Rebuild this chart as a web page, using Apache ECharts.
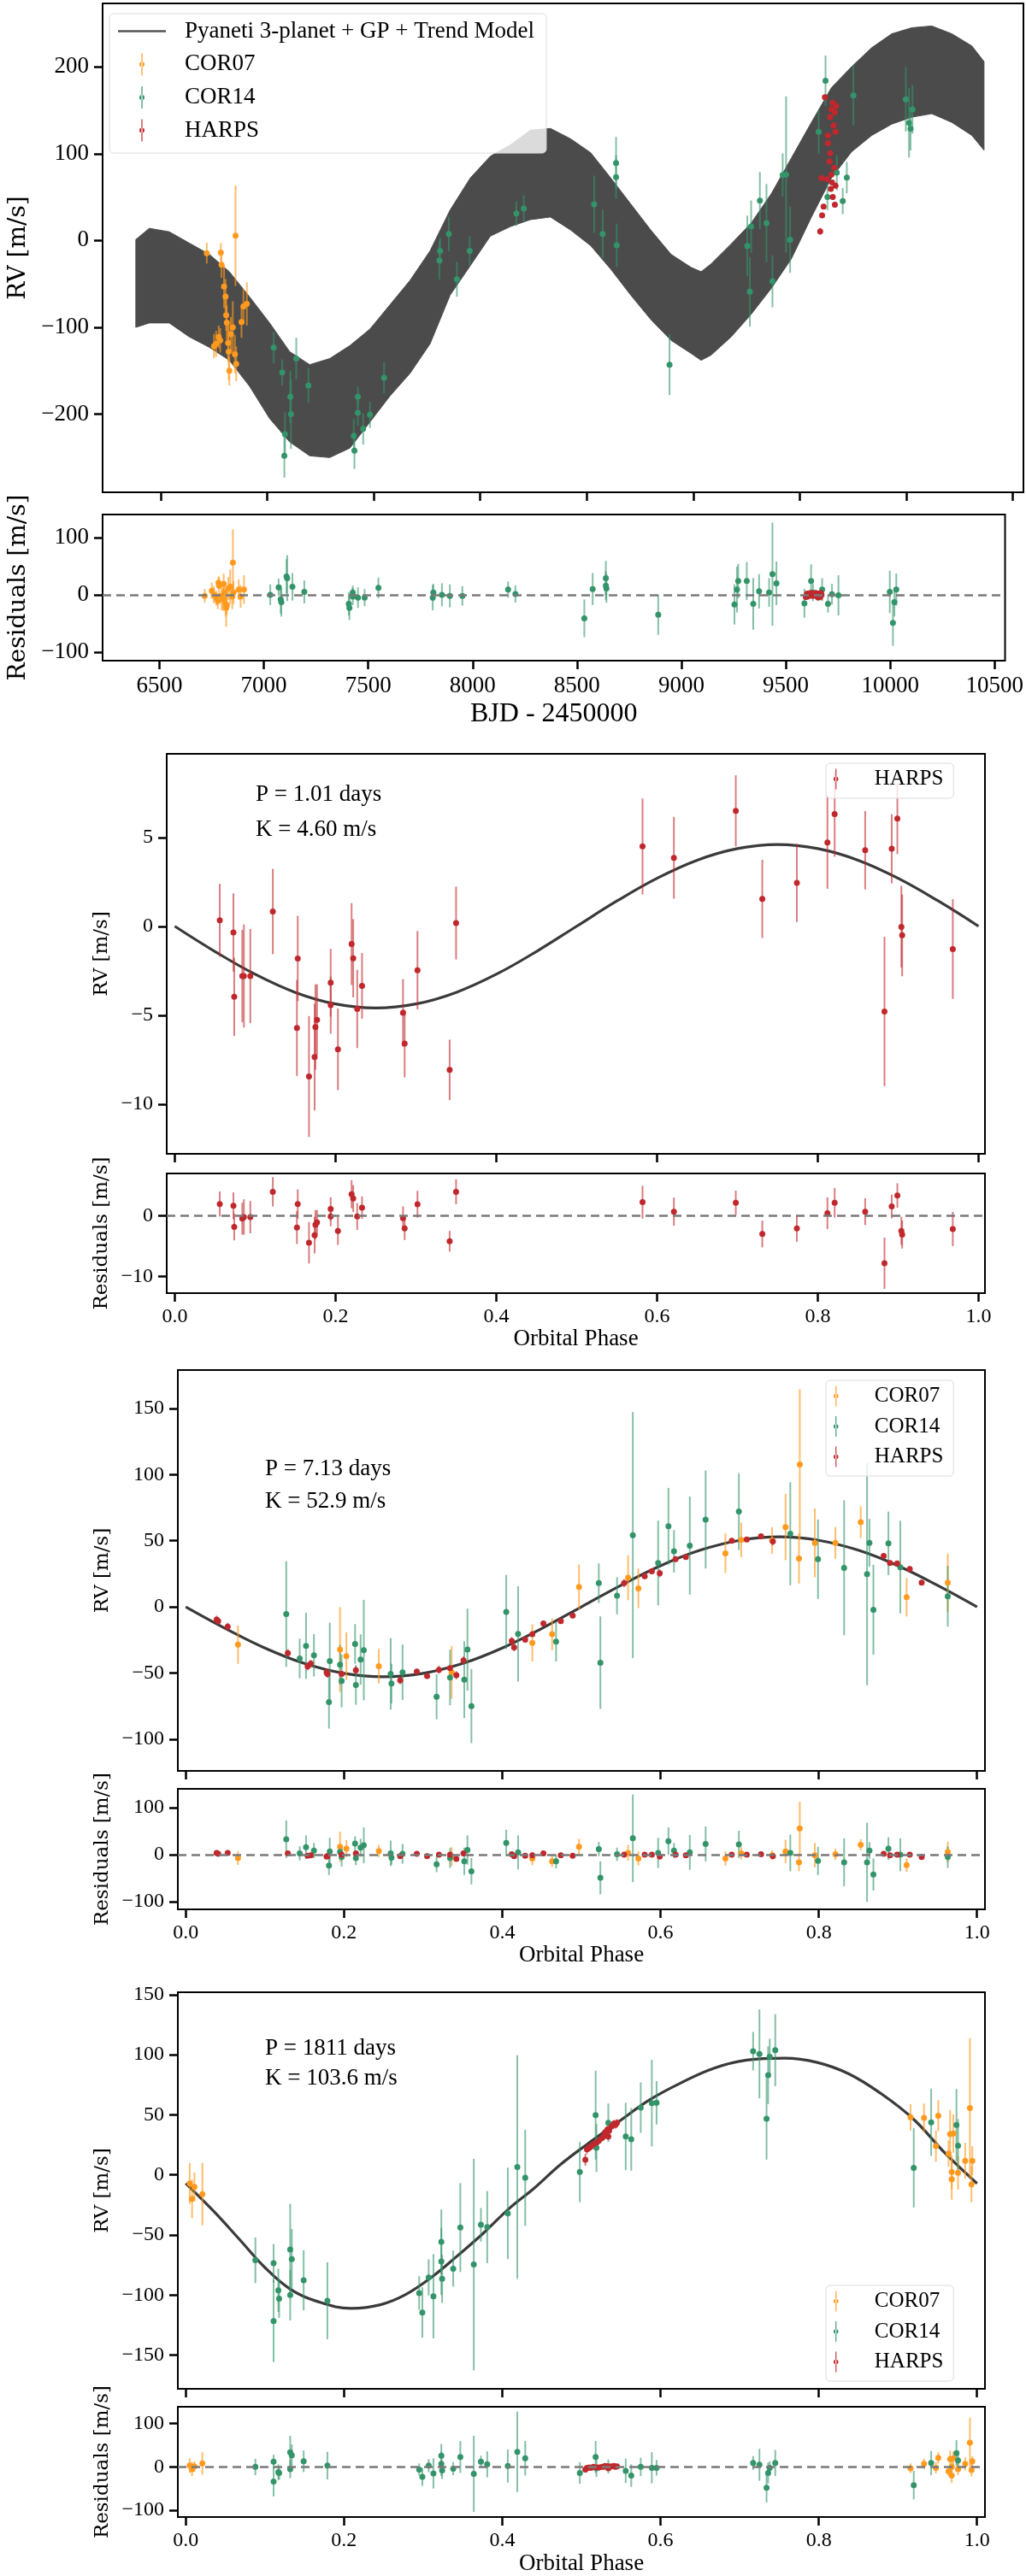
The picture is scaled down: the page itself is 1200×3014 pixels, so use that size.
<!DOCTYPE html>
<html lang="en">
<head>
<meta charset="UTF-8">
<title>RV fit</title>
<script src="https://cdn.jsdelivr.net/npm/echarts@6/dist/echarts.min.js"></script>
<style>
    html, body { margin: 0; padding: 0; background: #fff; }
    #main { width: 1200px; height: 3014px; }
</style>
</head>
<body>
<div id="main"></div>
<script>
// ---- time series: model band (upper / lower envelope)
var bandT  = [6384, 6447, 6541, 6635, 6729, 6823, 6918, 7012, 7106, 7200, 7294, 7389, 7483, 7577, 7671, 7765, 7859, 7954, 8048, 8142, 8236, 8330, 8425, 8519, 8613, 8707, 8801, 8896, 8990, 9037, 9084, 9178, 9272, 9367, 9461, 9555, 9649, 9743, 9838, 9932, 10026, 10120, 10214, 10308, 10365];
var bandHi = [1, 14, 10, -3, -16, -36, -65, -95, -128, -143, -136, -121, -102, -74, -46, -12, 35, 72, 97, 110, 127, 129, 117, 101, 72, 42, 12, -16, -31, -36, -27, -4, 20, 54, 95, 136, 176, 200, 222, 238, 245, 247, 238, 224, 206];
var bandLo = [-100, -95, -95, -111, -123, -138, -168, -205, -232, -248, -250, -239, -209, -179, -153, -119, -63, -29, 5, 16, 24, 27, 12, -6, -33, -63, -91, -115, -130, -138, -132, -111, -85, -55, -21, 27, 72, 102, 121, 134, 142, 146, 136, 121, 104];

// ---- time series data
var tC07   = [6717, 6751, 6761, 6773, 6780, 6783, 6786, 6798, 6805, 6808, 6811, 6817, 6820, 6823, 6830, 6839, 6849, 6852, 6855, 6880, 6889, 6905];
var rvC07  = [-14.6, -121.6, -119, -111, -115, -13.9, -28, -53, -64.5, -86, -94.6, -118, -128, -150, -108, -100, -131, 5.6, -142, -94, -76, -73];
var eC07   = [12, 14, 15, 13, 14, 11, 15, 25, 20, 18, 20, 22, 33, 17, 20, 30, 22, 58, 20, 18, 20, 25];
var resC07 = [-2, 7, 0, -6, -11, 21, 16, -2, -8, 19, 4, -16, -23, -18, 11, 14, -3, 56, 4, 9, -3, 9];

var tC14   = [7031, 7071, 7081, 7084, 7109, 7112, 7137, 7194, 7407, 7410, 7426, 7426, 7451, 7483, 7549, 7809, 7812, 7853, 7891, 7951, 8170, 8205, 8535, 8575, 8638, 8638, 8641, 8889, 9254, 9266, 9272, 9313, 9344, 9372, 9420, 9436, 9455, 9589, 9621, 9630, 9674, 9702, 9721, 9752, 9998, 10013, 10020, 10029];
var rvC14  = [-123.4, -152, -248, -223, -180, -200, -136, -167, -225, -242, -180, -198.5, -217, -200.7, -158, -23, -12, 7.5, -44.7, -12, 31, 36.8, 41.7, 7.5, 89.3, 73, -5.6, -143, -6.4, -59, 16, 46, 20, -47, 75.4, 76, 0.75, 125, 184, 50, 78, 45.4, 72.4, 167, 162.5, 135.5, 128.7, 151];
var eC14   = [18, 15, 25, 25, 30, 40, 24, 20, 20, 21, 12, 15, 18, 15, 18, 22, 15, 20, 20, 17, 14, 15, 33, 28, 30, 25, 25, 35, 35, 40, 30, 33, 45, 30, 25, 90, 38, 25, 29, 15, 20, 15, 18, 35, 37, 40, 25, 28];
var resC14 = [0, 13, -8, -13, 32, 29, 14, 5, -16, -23, 4, -3, -5, -5, 12, -5, 4, 0, -2, -2, 9, 1.5, -41, 10, 29, 16, 11, -35, -17, 9, 24, 24, -16, 6, 4, 36, 20, -15, 24, 4, 9, -16, 1, -1, 5, -49, -13, 9];

var tHar   = [9596, 9602, 9605, 9612, 9618, 9627, 9633, 9633, 9640, 9643, 9643, 9646, 9649, 9649, 9652, 9655, 9655, 9659, 9662, 9665, 9665, 9668, 9668, 9671];
var rvHar  = [10.5, 72, 29, 39, 165, 70.5, 112, 121, 91, 100.5, 142, 59.3, 151, 76, 66.8, 158.7, 50, 132.5, 83.7, 147.5, 41.3, 125, 63, 155];
var eHar   = [4, 3, 3, 3, 3, 3, 3, 3, 3, 3, 3, 3, 3, 3, 3, 3, 3, 3, 3, 3, 3, 3, 3, 3];
var resHar = [-4, 2, -3, 1, 3, -2, 0, 2, -1, 1, 3, -2, 2, 0, -3, 1, -5, 0, 2, -1, -4, 1, 3, 0];

// ---- planet b (P = 1.01 d), HARPS only
var phB  = [0.056, 0.073, 0.074, 0.084, 0.086, 0.094, 0.122, 0.152, 0.153, 0.167, 0.174, 0.175, 0.177, 0.194, 0.194, 0.203, 0.220, 0.222, 0.227, 0.233, 0.284, 0.286, 0.302, 0.342, 0.350, 0.582, 0.621, 0.698, 0.731, 0.774, 0.812, 0.821, 0.859, 0.883, 0.892, 0.899, 0.904, 0.905, 0.968];
var rvB  = [0.34, -0.35, -3.97, -2.8, -2.8, -2.8, 0.83, -5.72, -1.81, -8.45, -7.36, -5.67, -5.26, -3.17, -4.44, -6.92, -1.0, -1.8, -4.65, -3.35, -4.87, -6.6, -2.47, -8.08, 0.18, 4.49, 3.85, 6.49, 1.54, 2.44, 4.71, 6.31, 4.28, -4.79, 4.36, 6.06, -0.03, -0.51, -1.28];
var eB   = [2.05, 2.2, 2.2, 2.6, 2.9, 2.65, 2.4, 2.7, 2.4, 3.4, 3.0, 2.4, 2.0, 1.9, 1.6, 2.3, 2.3, 2.2, 2.2, 1.85, 1.9, 1.9, 2.2, 1.7, 2.05, 2.7, 2.3, 2.0, 2.2, 2.2, 2.6, 2.4, 2.2, 4.2, 1.95, 2.0, 2.3, 2.3, 2.8];
var resB = [1.9, 1.6, -1.85, -0.5, -0.25, -0.25, 3.9, -1.95, 1.9, -4.45, -3.2, -1.5, -1.1, 1.1, -0.15, -2.5, 3.5, 2.8, -0.15, 1.3, -0.4, -2.1, 1.85, -4.2, 3.9, 2.2, 0.65, 2.1, -3.0, -2.1, 0.4, 2.1, 0.65, -7.8, 1.5, 3.3, -2.5, -3.1, -2.2];

// ---- planet c (P = 7.13 d)
var phC07  = [0.066, 0.195, 0.203, 0.244, 0.336, 0.438, 0.463, 0.497, 0.559, 0.572, 0.682, 0.702, 0.741, 0.758, 0.775, 0.776, 0.795, 0.821, 0.853, 0.911, 0.963];
var rvCc07 = [-28.6, -32.3, -37.2, -44.8, -49.5, -27.3, -20.7, 15, 22, 14, 40.5, 50.6, 50.2, 60.3, 36.6, 107.6, 48.4, 48.4, 64, 7.3, 18.3];
var eCc07  = [14.5, 32, 18, 13, 20, 14, 12, 17, 17, 15, 15, 13, 10, 25, 19, 57, 26, 12, 12, 14.5, 22];
var rsCc07 = [-7, 17, 13, 8, -4, -8, -14, 17, 4, -8, -8, 3, -1, 7, -16, 56, -1, 1, 21, -22, 6];

var phC14  = [0.127, 0.144, 0.152, 0.162, 0.181, 0.182, 0.195, 0.197, 0.214, 0.215, 0.221, 0.225, 0.259, 0.260, 0.274, 0.317, 0.334, 0.352, 0.356, 0.361, 0.405, 0.420, 0.468, 0.522, 0.524, 0.545, 0.565, 0.597, 0.610, 0.617, 0.637, 0.657, 0.699, 0.764, 0.799, 0.832, 0.861, 0.864, 0.869, 0.888, 0.903, 0.963];
var rvCc14 = [-5.4, -39, -29.5, -36.6, -72, -41, -43.7, -56, -28, -59, -39.8, -32.7, -50.6, -58, -49.5, -68, -53.4, -55, -32.3, -75, -3.9, -20.4, -26.3, 17.9, -42.2, 8.4, 54.2, 33.2, 60.9, 42, 46.3, 66, 72, 55.3, 36, 29.5, 24.8, 48.4, -2.2, 48, 30, 8];
var eCc14  = [40, 15, 25, 16, 20, 29, 15, 20, 15, 15, 19, 38, 27, 15, 21, 17, 21, 29, 31, 28, 28, 36, 15, 15, 35, 14, 93, 32, 29, 16, 37, 37, 29, 39, 30, 51, 84, 18, 34, 24, 35, 23];
var rsCc14 = [33, 3, 16, 9, -23, 7, 6, -5, 24, -7, 15, 20, 3, -6, 2, -20, -7, -14, 10, -35, 25, 5, -14, 12, -49, 1, 35, 4, 29, 9, 5, 23, 22, 4, -13, -16, -16, 9, -42, 13, 0, -5];

var phCH   = [0.039, 0.041, 0.053, 0.129, 0.154, 0.158, 0.178, 0.179, 0.197, 0.215, 0.271, 0.292, 0.305, 0.320, 0.334, 0.342, 0.351, 0.412, 0.415, 0.429, 0.438, 0.452, 0.474, 0.489, 0.554, 0.580, 0.589, 0.599, 0.619, 0.632, 0.690, 0.709, 0.727, 0.742, 0.882, 0.890, 0.899, 0.915, 0.930];
var rvCH   = [-9.7, -10.8, -15, -35, -45, -43, -49.5, -50.6, -50.6, -48, -55.5, -48.9, -52.3, -47.6, -46.3, -51.7, -40.5, -25.8, -30.6, -24.8, -20.7, -12.5, -10.8, -6.5, 17.9, 23.2, 26.9, 25.4, 36, 37.7, 50, 51, 53.4, 49.5, 38.5, 33.2, 32.9, 28.6, 18.3];
var eCH    = [3, 3, 3, 3, 3, 3, 3, 3, 2, 3, 3, 2, 2, 3, 2, 3, 3, 3, 3, 2, 2, 2, 2, 2, 3, 2, 2, 3, 2, 2, 2, 2, 2, 3, 2, 2, 2, 2, 2];
var rsCH   = [4, 2, 4, 3, -2, -1, -4, -3, 0, 3, -3, 2, -3, 0, 0, -9, 3, 1, -3, -2, -1, 3, -1, -2, 0, 0, 0, -4, 0, -1, 0, 0, 1, -3, 2, -1, 0, 0, -5];

// ---- planet d (P = 1811 d)
var phD07  = [0.005, 0.008, 0.011, 0.021, 0.916, 0.933, 0.948, 0.951, 0.964, 0.966, 0.968, 0.968, 0.970, 0.976, 0.985, 0.991, 0.993, 0.994];
var rvDc07 = [-7.1, -20, -10, -16, 47.9, 47.4, 24, 49.3, 17.8, 34, -3.6, 2.4, 34.4, 1.7, 11.8, 55.7, -7.8, 11.8];
var eDc07  = [17, 16, 12, 26, 11, 12, 13, 13, 11, 20, 17, 14, 16, 14, 15, 58, 15, 12];
var rsDc07 = [3, -5, 1, 8, -3, 7, -2, 21, -10, 18, -20, 0, 20, -5, 7, 56, -7, 13];

var phD14  = [0.088, 0.111, 0.111, 0.117, 0.118, 0.132, 0.132, 0.134, 0.149, 0.179, 0.295, 0.299, 0.307, 0.313, 0.323, 0.323, 0.324, 0.338, 0.347, 0.364, 0.373, 0.381, 0.407, 0.419, 0.429, 0.498, 0.518, 0.519, 0.534, 0.556, 0.563, 0.575, 0.589, 0.595, 0.717, 0.725, 0.734, 0.736, 0.738, 0.745, 0.920, 0.942, 0.974, 0.976];
var rvDc14 = [-71, -73.5, -121.6, -96, -103, -62, -100, -70, -87.7, -104.7, -98.3, -114.5, -85.3, -101, -55.7, -72, -86.5, -78, -43.8, -74.6, -41.5, -43.4, -32, 6.6, -2.4, 2.4, 49.8, 22.5, 43.4, 32, 29.6, 56, 59.7, 60, 103, 100.7, 46.7, 83, 98.3, 103.8, 5.9, 43.8, 41.5, 24.4];
var eDc14  = [19, 16, 34, 18, 16, 38, 21, 25, 25, 32, 14, 21, 15, 35, 27, 28, 20, 15, 37, 88, 14, 30, 38, 93, 40, 25, 37, 20, 16, 28, 26, 21, 36, 18, 16, 37, 34, 24, 15, 30, 33, 28, 30, 22];
var rsDc14 = [0, 12, -34, -12, -14, 34, -5, 27, 13, 3, -6, -23, 3, -15, 26, 7, -8, -4, 23, -16, 12, 6, 2, 35, 20, -14, 23, -3, 1, -9, -20, 0, -2, -2, 9, 5, -48, -14, -2, 9, -42, 9, 32, 15];

var phDH   = [0.505, 0.507, 0.510, 0.512, 0.515, 0.519, 0.522, 0.526, 0.528, 0.530, 0.533, 0.534, 0.535, 0.538, 0.541, 0.543, 0.545];
var rvDH   = [12.6, 21.3, 22.5, 23.7, 25.4, 26.8, 28.4, 30.8, 32, 35.5, 37.9, 32, 36.7, 40.3, 42.7, 41.5, 43.4];
var eDH    = [5, 4, 3, 3, 3, 3, 3, 3, 3, 3, 3, 3, 3, 3, 3, 3, 3];
var rsDH   = [-6, -2, -1, -2, 0, -1, -1, 0, 0, 2, 1, -3, 0, 1, 2, 0, 1];

// ---- model curves
var phGrid = [0, 0.05, 0.1, 0.15, 0.2, 0.25, 0.3, 0.35, 0.4, 0.45, 0.5, 0.55, 0.6, 0.65, 0.7, 0.75, 0.8, 0.85, 0.9, 0.95, 1];
var modB = [0, -1.42, -2.70, -3.72, -4.37, -4.60, -4.37, -3.72, -2.70, -1.42, 0, 1.42, 2.70, 3.72, 4.37, 4.60, 4.37, 3.72, 2.70, 1.42, 0];
var modC = [0, -16.3, -31.1, -42.8, -50.3, -52.9, -50.3, -42.8, -31.1, -16.3, 0, 16.3, 31.1, 42.8, 50.3, 52.9, 50.3, 42.8, 31.1, 16.3, 0];
var phModD = [0, 0.035, 0.067, 0.10, 0.132, 0.165, 0.209, 0.246, 0.278, 0.311, 0.343, 0.376, 0.408, 0.441, 0.473, 0.506, 0.546, 0.587, 0.627, 0.668, 0.709, 0.757, 0.798, 0.838, 0.879, 0.920, 0.960, 1.0];
var modD = [-7, -30, -53, -77, -95, -105, -111, -108, -99.5, -85, -67.5, -48.6, -28.4, -10.7, 8.3, 24.9, 43.8, 62.8, 77, 88.9, 95.5, 97.2, 93.6, 84.1, 67.5, 46.2, 17.8, -7.1];

// ---- tick values
var ticksBJD   = [6500, 7000, 7500, 8000, 8500, 9000, 9500, 10000, 10500];
var ticksRVtop = [-200, -100, 0, 100, 200];
var ticksRes   = [-100, 0, 100];
var ticksPhase = [0, 0.2, 0.4, 0.6, 0.8, 1.0];
var ticksRVb   = [-10, -5, 0, 5];
var ticksResB  = [-10, 0];
var ticksRVc   = [-100, -50, 0, 50, 100, 150];
var ticksRVd   = [-150, -100, -50, 0, 50, 100, 150];

var MODEL = 'Pyaneti 3-planet + GP + Trend Model';
var ORANGE = '#ff9a1f', GREEN = '#33946a', RED = '#c0282d';
var ORANGE_E = 'rgba(255,154,31,0.65)', GREEN_E = 'rgba(51,148,106,0.6)', RED_E = 'rgba(192,40,45,0.6)';
var BAND = '#4b4b4b';
var SERIF = 'Liberation Serif';
var ERR_ICON = 'path://M2.4,0h1.2v26h-1.2z M0,13a3,3 0 1,0 6,0a3,3 0 1,0 -6,0z';
var LINE_ICON = 'path://M0,0h56v2.6H0z';

var myChart = echarts.init(document.getElementById('main'));

var grids = [
    {left: 115, top: 4, width: 1082, height: 572},
    {left: 115, top: 602, width: 1082, height: 171},
    {left: 195, top: 882, width: 957, height: 468},
    {left: 195, top: 1373, width: 957, height: 140},
    {left: 208, top: 1603, width: 944, height: 469},
    {left: 208, top: 2093, width: 944, height: 141},
    {left: 208, top: 2331, width: 944, height: 464},
    {left: 208, top: 2816, width: 944, height: 139}
];
grids.forEach(function (g) {
    g.show = true;
    g.borderColor = '#000';
    g.borderWidth = 2;
    g.backgroundColor = 'transparent';
});

function minusFmt(v) {
    return String(v).replace('-', '\u2212');
}

function plainFmt(v) {
    return String(v);
}

function phaseFmt(v) {
    return v.toFixed(1);
}

function makeX(gi, min, max, ticks, showLabel, fmt, name, labelSize) {
    var big = name === 'BJD - 2450000';
    return {
        type: 'value', gridIndex: gi, min: min, max: max,
        splitLine: {show: false},
        axisLine: {show: false, onZero: false},
        axisTick: {show: true, length: 10, lineStyle: {color: '#000', width: 2.5}, customValues: ticks},
        axisLabel: {
            show: showLabel, customValues: ticks, formatter: fmt, margin: 16,
            fontFamily: SERIF, fontSize: labelSize, color: '#000'
        },
        name: name || '', nameLocation: 'middle', nameGap: big ? 47 : 40,
        nameTextStyle: {fontFamily: SERIF, fontSize: big ? 32 : 27, color: '#000'}
    };
}

function makeY(gi, min, max, ticks, name, gap, nameSize, labelSize) {
    return {
        type: 'value', gridIndex: gi, min: min, max: max,
        splitLine: {show: false},
        axisLine: {show: false, onZero: false},
        axisTick: {show: true, length: 10, lineStyle: {color: '#000', width: 2.5}, customValues: ticks},
        axisLabel: {
            customValues: ticks, formatter: minusFmt, margin: 16,
            fontFamily: SERIF, fontSize: labelSize, color: '#000'
        },
        name: name, nameLocation: 'middle', nameGap: gap,
        nameTextStyle: {fontFamily: 'DejaVu Serif', fontSize: nameSize, color: '#000'}
    };
}

var xAxes = [
    makeX(0, 6228, 10550, ticksBJD, false, plainFmt, '', 27),
    makeX(1, 6228, 10550, ticksBJD, true, plainFmt, 'BJD - 2450000', 27),
    makeX(2, -0.01, 1.008, ticksPhase, false, phaseFmt, '', 24),
    makeX(3, -0.01, 1.008, ticksPhase, true, phaseFmt, 'Orbital Phase', 24),
    makeX(4, -0.01, 1.01, ticksPhase, false, phaseFmt, '', 24),
    makeX(5, -0.01, 1.01, ticksPhase, true, phaseFmt, 'Orbital Phase', 24),
    makeX(6, -0.01, 1.01, ticksPhase, false, phaseFmt, '', 24),
    makeX(7, -0.01, 1.01, ticksPhase, true, phaseFmt, 'Orbital Phase', 24)
];

var yAxes = [
    makeY(0, -290, 273, ticksRVtop, 'RV [m/s]', 84, 28, 27),
    makeY(1, -115, 140, ticksRes, 'Residuals [m/s]', 84, 28, 27),
    makeY(2, -12.8, 9.7, ticksRVb, 'RV [m/s]', 61, 23, 24),
    makeY(3, -12.7, 6.9, ticksResB, 'Residuals [m/s]', 61, 23, 24),
    makeY(4, -124, 179, ticksRVc, 'RV [m/s]', 74, 23, 24),
    makeY(5, -116, 140, ticksRes, 'Residuals [m/s]', 74, 23, 24),
    makeY(6, -178, 152, ticksRVd, 'RV [m/s]', 74, 23, 24),
    makeY(7, -116, 139, ticksRes, 'Residuals [m/s]', 74, 23, 24)
];

var series = [];

// model band of the time series
series.push({
    type: 'custom', name: MODEL, xAxisIndex: 0, yAxisIndex: 0, z: 1, silent: true,
    data: bandT.map(function (t, i) { return [t, bandHi[i], bandLo[i]]; }),
    encode: {x: 0, y: [1, 2]},
    renderItem: function (params, api) {
        if (params.dataIndex !== 0) return;
        var pts = [];
        for (var i = 0; i < bandT.length; i++) pts.push(api.coord([bandT[i], bandHi[i]]));
        for (var j = bandT.length - 1; j >= 0; j--) pts.push(api.coord([bandT[j], bandLo[j]]));
        return {type: 'polygon', shape: {points: pts}, style: {fill: BAND, stroke: BAND, lineWidth: 1}};
    }
});

function addModel(gi, xs, ys) {
    series.push({
        type: 'line', name: 'model', xAxisIndex: gi, yAxisIndex: gi, z: 1, silent: true,
        data: xs.map(function (x, i) { return [x, ys[i]]; }),
        smooth: 0.4, showSymbol: false, symbol: 'none',
        lineStyle: {color: '#3a3a3a', width: 3.2}
    });
}

// error bars + points for one instrument on one panel
function addInstrument(name, gi, xs, ys, es, col, ecol, zeroLine) {
    series.push({
        type: 'custom', name: name, xAxisIndex: gi, yAxisIndex: gi, z: 2, clip: true, silent: true,
        data: xs.map(function (x, i) { return [x, ys[i], es[i]]; }),
        encode: {x: 0, y: 1},
        renderItem: function (params, api) {
            var a = api.coord([api.value(0), api.value(1) - api.value(2)]);
            var b = api.coord([api.value(0), api.value(1) + api.value(2)]);
            return {type: 'line', shape: {x1: a[0], y1: a[1], x2: b[0], y2: b[1]},
                style: {stroke: ecol, lineWidth: 2}};
        }
    });
    var s = {
        type: 'scatter', name: name, xAxisIndex: gi, yAxisIndex: gi, z: 3, silent: true,
        symbolSize: 7,
        itemStyle: {color: col, opacity: 1},
        data: xs.map(function (x, i) { return [x, ys[i]]; })
    };
    if (zeroLine) {
        s.markLine = {
            silent: true, symbol: 'none', label: {show: false},
            lineStyle: {color: '#7a7a7a', width: 2.5, type: [10, 6]},
            data: [{yAxis: 0}]
        };
    }
    series.push(s);
}

// top: time series
addInstrument('COR07', 0, tC07, rvC07, eC07, ORANGE, ORANGE_E);
addInstrument('COR14', 0, tC14, rvC14, eC14, GREEN, GREEN_E);
addInstrument('HARPS', 0, tHar, rvHar, eHar, RED, RED_E);
addInstrument('COR07', 1, tC07, resC07, eC07, ORANGE, ORANGE_E, true);
addInstrument('COR14', 1, tC14, resC14, eC14, GREEN, GREEN_E);
addInstrument('HARPS', 1, tHar, resHar, eHar, RED, RED_E);

// planet b
addModel(2, phGrid, modB);
addInstrument('HARPS', 2, phB, rvB, eB, RED, RED_E);
addInstrument('HARPS', 3, phB, resB, eB, RED, RED_E, true);

// planet c
addModel(4, phGrid, modC);
addInstrument('COR07', 4, phC07, rvCc07, eCc07, ORANGE, ORANGE_E);
addInstrument('COR14', 4, phC14, rvCc14, eCc14, GREEN, GREEN_E);
addInstrument('HARPS', 4, phCH, rvCH, eCH, RED, RED_E);
addInstrument('COR07', 5, phC07, rsCc07, eCc07, ORANGE, ORANGE_E, true);
addInstrument('COR14', 5, phC14, rsCc14, eCc14, GREEN, GREEN_E);
addInstrument('HARPS', 5, phCH, rsCH, eCH, RED, RED_E);

// planet d
addModel(6, phModD, modD);
addInstrument('COR07', 6, phD07, rvDc07, eDc07, ORANGE, ORANGE_E);
addInstrument('COR14', 6, phD14, rvDc14, eDc14, GREEN, GREEN_E);
addInstrument('HARPS', 6, phDH, rvDH, eDH, RED, RED_E);
addInstrument('COR07', 7, phD07, rsDc07, eDc07, ORANGE, ORANGE_E, true);
addInstrument('COR14', 7, phD14, rsDc14, eDc14, GREEN, GREEN_E);
addInstrument('HARPS', 7, phDH, rsDH, eDH, RED, RED_E);

function errItem(name, col) {
    return {name: name, icon: ERR_ICON, itemStyle: {color: col}};
}

function phaseLegend(top, names) {
    var cols = {COR07: ORANGE, COR14: GREEN, HARPS: RED};
    return {
        orient: 'vertical', left: 966, top: top, selectedMode: false,
        itemWidth: 50, itemHeight: 24, itemGap: 10.5, padding: [6, 12, 10, 9],
        backgroundColor: 'rgba(255,255,255,0.8)', borderColor: '#dcdcdc', borderWidth: 1, borderRadius: 5,
        textStyle: {fontFamily: SERIF, fontSize: 25, color: '#000', lineHeight: 24, padding: [0, 0, 0, 15]},
        data: names.map(function (n) { return errItem(n, cols[n]); })
    };
}

var legends = [
    {
        orient: 'vertical', left: 128, top: 16, selectedMode: false,
        itemWidth: 56, itemHeight: 26, itemGap: 11.7, padding: [7, 14, 13, 10],
        backgroundColor: 'rgba(255,255,255,0.8)', borderColor: '#dcdcdc', borderWidth: 1, borderRadius: 5,
        textStyle: {fontFamily: SERIF, fontSize: 27, color: '#000', lineHeight: 26, padding: [0, 0, 0, 17]},
        data: [
            {name: MODEL, icon: LINE_ICON, itemStyle: {color: '#555'}},
            errItem('COR07', ORANGE),
            errItem('COR14', GREEN),
            errItem('HARPS', RED)
        ]
    },
    phaseLegend(893, ['HARPS']),
    phaseLegend(1615, ['COR07', 'COR14', 'HARPS']),
    phaseLegend(2674, ['COR07', 'COR14', 'HARPS'])
];

function note(left, top, txt) {
    return {type: 'text', left: left, top: top,
        style: {text: txt, fontFamily: SERIF, fontSize: 27, fill: '#000'}};
}

var option = {
    animation: false,
    backgroundColor: '#fff',
    grid: grids,
    xAxis: xAxes,
    yAxis: yAxes,
    legend: legends,
    graphic: [
        note(299, 916, 'P = 1.01 days'),
        note(299, 957, 'K = 4.60 m/s'),
        note(310, 1705, 'P = 7.13 days'),
        note(310, 1743, 'K = 52.9 m/s'),
        note(310, 2383, 'P = 1811 days'),
        note(310, 2418, 'K = 103.6 m/s')
    ],
    series: series
};

myChart.setOption(option);
</script>
</body>
</html>
